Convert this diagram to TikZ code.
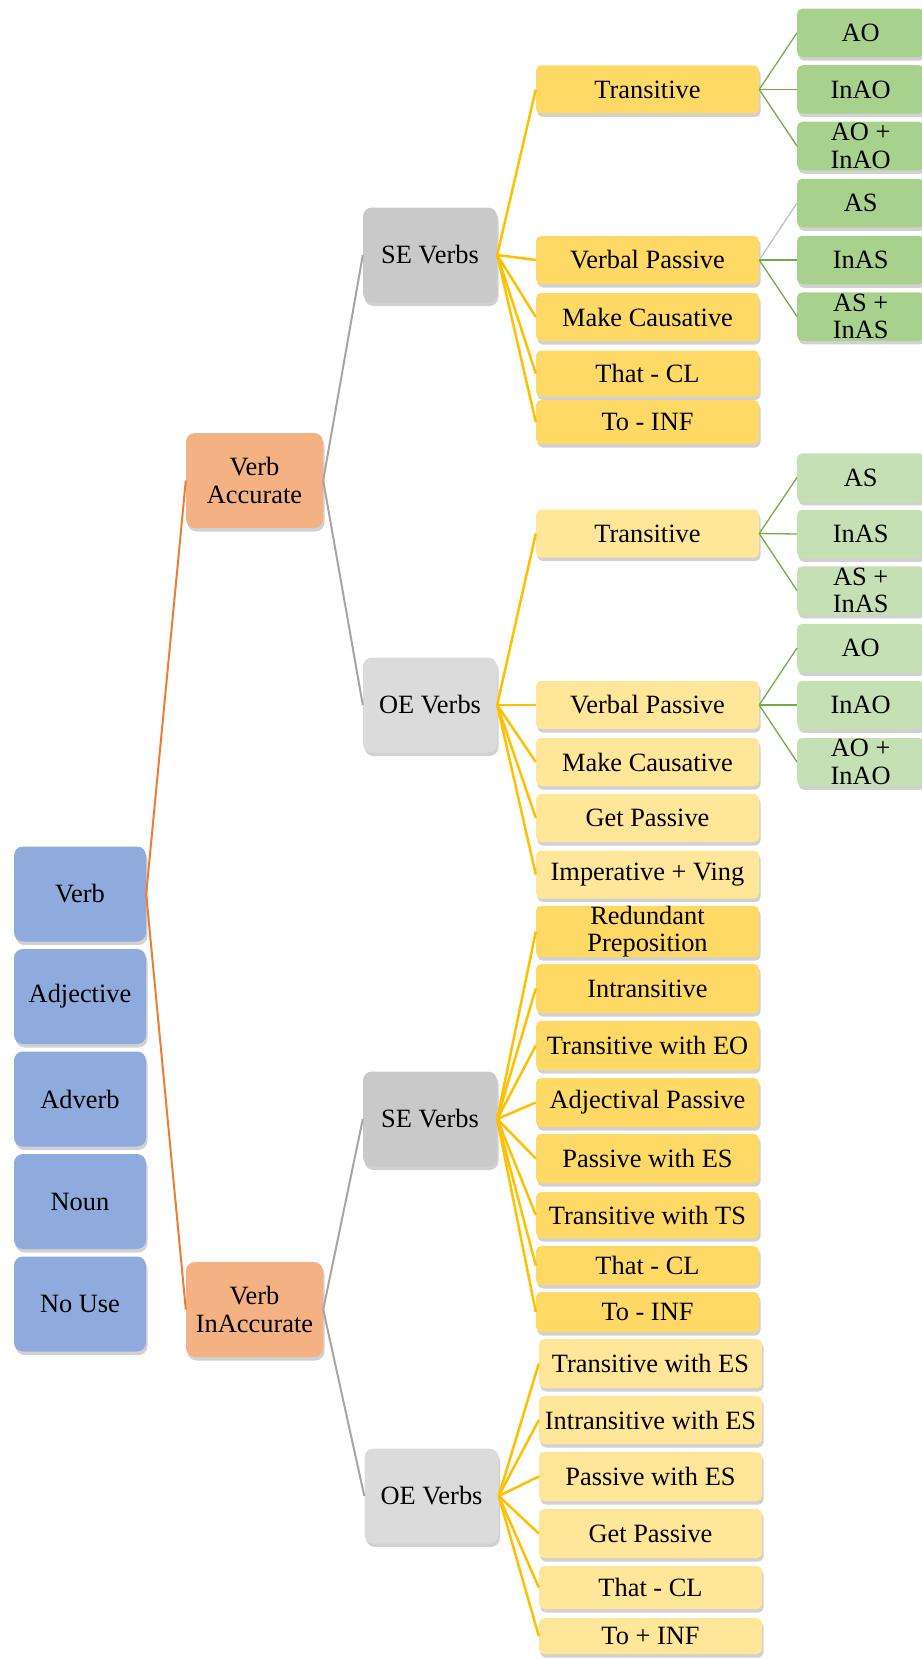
\documentclass[tikz,border=0pt]{standalone}
\usepackage{fontspec}
\setmainfont{Liberation Serif}
\usetikzlibrary{shadows}
\definecolor{wordblue}{HTML}{8FAADC}
\definecolor{accorange}{HTML}{F4B183}
\definecolor{segray}{HTML}{C9C9C9}
\definecolor{oegray}{HTML}{DBDBDB}
\definecolor{seyellow}{HTML}{FFD966}
\definecolor{oeyellow}{HTML}{FFE699}
\definecolor{segreen}{HTML}{A9D18E}
\definecolor{oegreen}{HTML}{C5E0B4}
\definecolor{orangeline}{HTML}{ED7D31}
\definecolor{grayline}{HTML}{A5A5A5}
\definecolor{goldline}{HTML}{FFC000}
\definecolor{greenline}{HTML}{70AD47}
\tikzset{
  boxshadow/.style={drop shadow={shadow xshift=1.5pt, shadow yshift=-3.5pt, opacity=0.3, fill=black!60}},
  bigbox/.style={boxshadow, rounded corners=9pt, minimum height=95pt},
  wordbox/.style={bigbox, fill=wordblue, minimum width=132pt},
  accbox/.style={bigbox, fill=accorange, minimum width=137pt},
  sebox/.style={bigbox, fill=segray, minimum width=134pt},
  oebox/.style={bigbox, fill=oegray, minimum width=134pt},
  typebox/.style={boxshadow, rounded corners=5pt, minimum width=223pt, minimum height=#1},
  subbox/.style={boxshadow, rounded corners=5pt, anchor=west, minimum width=127pt, minimum height=48.5pt},
  accline/.style={orangeline, line width=2pt},
  verbline/.style={grayline, line width=2pt},
  typeline/.style={goldline, line width=2.5pt},
  subline/.style={greenline, line width=1.3pt}
}
\begin{document}
\begin{tikzpicture}[x=1pt, y=-1pt,
    every node/.style={font=\fontsize{26.4}{27.5}\selectfont, inner sep=0pt, align=center}]
    \useasboundingbox (0,0) rectangle (921,1659);

    % Word classes
    \foreach \txt/\y [count=\i] in {Verb/894, Adjective/996.5, Adverb/1099, Noun/1201.5, No Use/1304}
        \node[wordbox] (word\i) at (80,\y) {\txt};

    % Accuracy
    \node[accbox] (acc) at (254.5,480.5) {Verb\\Accurate};
    \node[accbox] (inacc) at (254.5,1309.5) {Verb\\InAccurate};

    % Verb groups
    \node[sebox] (accSE) at (430,255) {SE Verbs};
    \node[oebox] (accOE) at (430,705) {OE Verbs};
    \node[sebox] (inaccSE) at (430,1119) {SE Verbs};
    \node[oebox] (inaccOE) at (431.5,1496) {OE Verbs};

    % Types of the accurate verbs
    \foreach \txt/\y/\h [count=\i] in {Transitive/89.5/48, Verbal Passive/260/48, Make Causative/317/48, That - CL/373.5/46, To - INF/422/44}
        \node[typebox=\h pt, fill=seyellow] (accSE\i) at (647.5,\y) {\txt};
    \foreach \txt/\y/\h [count=\i] in {Transitive/533.5/48, Verbal Passive/705/48, Make Causative/762/48, Get Passive/818/48, Imperative + Ving/874.5/48}
        \node[typebox=\h pt, fill=oeyellow] (accOE\i) at (647.5,\y) {\txt};

    % Types of the inaccurate verbs
    \foreach \txt/\y/\h [count=\i] in {{Redundant\\Preposition}/931.5/49, Intransitive/988.5/49, Transitive with EO/1045.5/49, Adjectival Passive/1102.5/49, Passive with ES/1158.5/49, Transitive with TS/1215/46, That - CL/1265.5/39, To - INF/1312/40}
        \node[typebox=\h pt, fill=seyellow] (inaccSE\i) at (647.5,\y) {\txt};
    \foreach \txt/\y/\h [count=\i] in {Transitive with ES/1363.5/49, Intransitive with ES/1420/48, Passive with ES/1476.5/49, Get Passive/1533.5/49, That - CL/1587.5/43, To + INF/1636/36}
        \node[typebox=\h pt, fill=oeyellow] (inaccOE\i) at (650.5,\y) {\txt};

    % Subtypes
    \foreach \txt/\y [count=\i] in {AO/32.8, InAO/89.5, {AO +\\InAO}/146}
        \node[subbox, fill=segreen] (trSE\i) at (797,\y) {\txt};
    \foreach \txt/\y [count=\i] in {AS/203, InAS/260, {AS +\\InAS}/316.5}
        \node[subbox, fill=segreen] (vpSE\i) at (797,\y) {\txt};
    \foreach \txt/\y [count=\i] in {AS/477.5, InAS/534, {AS +\\InAS}/590.5}
        \node[subbox, fill=oegreen] (trOE\i) at (797,\y) {\txt};
    \foreach \txt/\y [count=\i] in {AO/648, InAO/705, {AO +\\InAO}/762}
        \node[subbox, fill=oegreen] (vpOE\i) at (797,\y) {\txt};

    % Connectors
    \draw[accline] (word1.east) -- (acc.west);
    \draw[accline] (word1.east) -- (inacc.west);
    \draw[verbline] (acc.east) -- (accSE.west);
    \draw[verbline] (acc.east) -- (accOE.west);
    \draw[verbline] (inacc.east) -- (inaccSE.west);
    \draw[verbline] (inacc.east) -- (inaccOE.west);
    \foreach \i in {1,...,5} {
        \draw[typeline] (accSE.east) -- (accSE\i.west);
        \draw[typeline] (accOE.east) -- (accOE\i.west);
    }
    \foreach \i in {1,...,8}
        \draw[typeline] (inaccSE.east) -- (inaccSE\i.west);
    \foreach \i in {1,...,6}
        \draw[typeline] (inaccOE.east) -- (inaccOE\i.west);
    \foreach \i in {1,2,3} {
        \draw[subline] (accSE1.east) -- (trSE\i.west);
        \draw[subline] (accOE1.east) -- (trOE\i.west);
        \draw[subline] (accOE2.east) -- (vpOE\i.west);
    }
    \draw[grayline!70, line width=1.3pt] (accSE2.east) -- (vpSE1.west);
    \foreach \i in {2,3}
        \draw[subline] (accSE2.east) -- (vpSE\i.west);
\end{tikzpicture}
\end{document}
